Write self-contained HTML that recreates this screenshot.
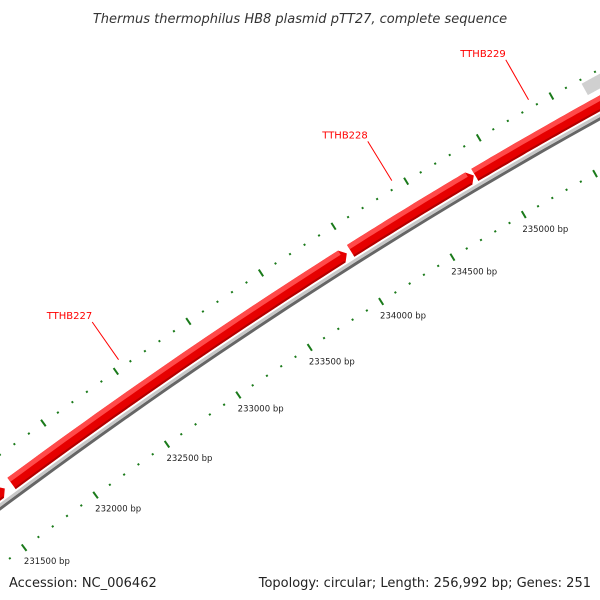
<!DOCTYPE html>
<html><head><meta charset="utf-8"><style>
html,body{margin:0;padding:0;background:#fff;width:600px;height:600px;overflow:hidden}
text{font-family:"DejaVu Sans","Liberation Sans",sans-serif}
</style></head><body>
<svg id="map" width="600" height="600" viewBox="0 0 600 600" xmlns="http://www.w3.org/2000/svg">
<rect width="600" height="600" fill="#fff"/>
<text x="300" y="23" text-anchor="middle" font-size="13" font-style="italic" fill="#333">Thermus thermophilus HB8 plasmid pTT27, complete sequence</text>
<g id="tracks"></g>
<text x="9" y="587" font-size="13" fill="#222">Accession: NC_006462</text>
<text x="591" y="587" text-anchor="end" font-size="13" fill="#222">Topology: circular; Length: 256,992 bp; Genes: 251</text>
</svg>
<script>
const tickStart = 231000;
const tickEnd = 235800;
const majorLabels = [231500, 232000, 232500, 233000, 233500, 234000, 234500, 235000];
const geneNames = ["TTHB226", "TTHB227", "TTHB228", "TTHB229"];
const geneStartBp = [230900, 231630, 233980, 234840];
const geneEndBp = [231590, 233960, 234840, 235900];
const labelledGenes = ["TTHB227", "TTHB228", "TTHB229"];

const NS = "http://www.w3.org/2000/svg";
const g = document.getElementById('tracks');
function bpToX(bp){ return -4 + (bp - 231500) / 500 * 72; }
function curveY(x){ return 0.0001595*x*x - 0.7457*x + 507; }
function pt(x, off){
  const d = 0.000319*x - 0.7457, n = Math.sqrt(1+d*d);
  return [x + off*d/n, curveY(x) - off/n];
}
function band(x1, x2, o1, o2, tip){
  const a = [], b = [];
  for (let i=0;i<=30;i++){ const x = x1 + (x2-x1)*i/30; a.push(pt(x,o1)); b.push(pt(x,o2)); }
  let p = a.slice();
  if (tip) p.push(pt(x2+5,(o1+o2)/2));
  p = p.concat(b.reverse());
  return p.map(q=>q[0].toFixed(1)+','+q[1].toFixed(1)).join(' ');
}
function poly(points, fill, name){
  const e = document.createElementNS(NS,'polygon');
  e.setAttribute('points', points);
  e.setAttribute('fill', fill);
  
  
  g.appendChild(e);
  return e;
}
// backbone
poly(band(-40, 660, -3, 0, false), '#666', 'backbone-dark');
poly(band(-40, 660, 0, 3, false), '#c8c8c8', 'backbone-light');
// genes
for (let i=0;i<geneNames.length;i++){
  const x1 = bpToX(geneStartBp[i]) + 4, x2 = bpToX(geneEndBp[i]) - 2;
  const grp = document.createElementNS(NS,'g');
  
  
  g.appendChild(grp);
  const e1 = poly(band(x1, x2, 5, 19, true), '#e60000', 'gene-body');
  const e2 = poly(band(x1, x2, 14, 19, false), '#ff4a4a', 'gene-highlight');
  const e3 = poly(band(x1, x2, 5, 7, false), '#b00000', 'gene-shadow');
  grp.appendChild(e1); grp.appendChild(e2); grp.appendChild(e3);
}
// other genes
poly(band(600, 640, 25, 38, false), '#d0d0d0', 'gene-grey');
poly(band(-20, 2, 22, 28, true), '#f08000', 'gene-orange');
// ticks
for (let bp = tickStart; bp <= tickEnd; bp += 100){
  const x = bpToX(bp);
  const major = (bp % 500 === 0);
  for (const [off, nm] of [[-47,'inner'],[42,'outer']]){
    const l = document.createElementNS(NS,'line');
    const p1 = pt(x, off - (major?4:1)), p2 = pt(x, off + (major?4:1));
    l.setAttribute('x1', p1[0]); l.setAttribute('y1', p1[1]);
    l.setAttribute('x2', p2[0]); l.setAttribute('y2', p2[1]);
    l.setAttribute('stroke', '#1a7a1a');
    l.setAttribute('stroke-width', major ? 2 : 2);
    
    
    g.appendChild(l);
  }
}
for (const bp of majorLabels){
  const p = pt(bpToX(bp), -60);
  const t = document.createElementNS(NS,'text');
  t.setAttribute('x', p[0] - 8); t.setAttribute('y', p[1] + 6);
  t.setAttribute('font-size', '8.5'); t.setAttribute('fill', '#222');
  
  
  t.textContent = bp + ' bp';
  g.appendChild(t);
}
// gene labels
for (const name of labelledGenes){
  const i = geneNames.indexOf(name);
  const x = bpToX(geneStartBp[i]) + (bpToX(geneEndBp[i]) - bpToX(geneStartBp[i]))*0.55;
  const xm = name === 'TTHB227' ? bpToX(232550) : name === 'TTHB228' ? bpToX(234430) : bpToX(235370);
  const p1 = pt(xm, 50), p2 = pt(xm, 96);
  const l = document.createElementNS(NS,'line');
  l.setAttribute('x1', p1[0]); l.setAttribute('y1', p1[1]);
  l.setAttribute('x2', p2[0]); l.setAttribute('y2', p2[1]);
  l.setAttribute('stroke', '#f00'); l.setAttribute('stroke-width', '1');
  
  
  g.appendChild(l);
  const t = document.createElementNS(NS,'text');
  t.setAttribute('x', p2[0]); t.setAttribute('y', p2[1] - 3);
  t.setAttribute('text-anchor', 'end');
  t.setAttribute('font-size', '10'); t.setAttribute('fill', '#f00');
  
  
  t.textContent = name;
  g.appendChild(t);
}
</script>
</body></html>
